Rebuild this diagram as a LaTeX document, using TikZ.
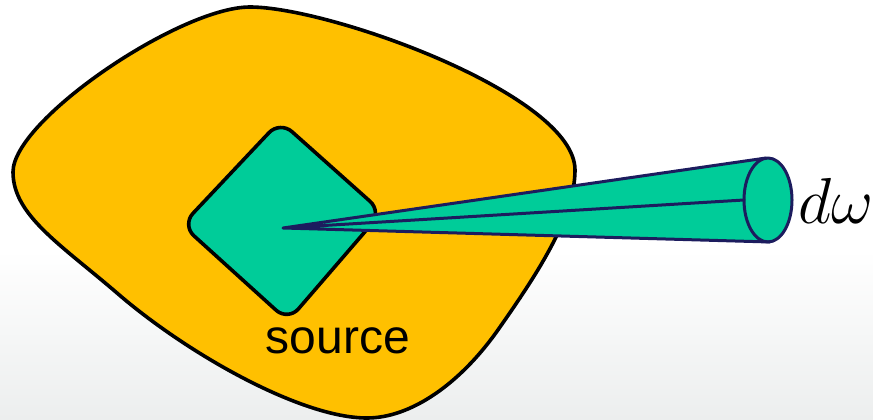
\RequirePackage{fix-cm}
\documentclass[tikz,border=0pt]{standalone}
\usepackage{fontspec}
\newfontfamily\labelfont{Liberation Sans}
\usetikzlibrary{calc}
\definecolor{blobfill}{HTML}{FFC000}
\definecolor{srcgreen}{HTML}{00CC99}
\definecolor{conenavy}{HTML}{1C1C5E}
\definecolor{bggray}{HTML}{ECEEEE}

\begin{document}
\begin{tikzpicture}[x=1pt,y=-1pt,line join=round,line cap=round]
\useasboundingbox (0,0) rectangle (873,420);
\fill[white] (0,0) rectangle (873,250);
\shade[top color=white,bottom color=bggray] (0,250) rectangle (873,420);
\draw[line width=3.6pt,fill=blobfill] (250,7) .. controls (330,7) and (575,95) .. (575,170)
  .. controls (575,215) and (540,270) .. (500,327)
  .. controls (460,385) and (410,418) .. (367,418)
  .. controls (300,418) and (185,352) .. (117,293)
  .. controls (60,244) and (13,215) .. (13,172)
  .. controls (13,120) and (180,7) .. cycle;
\draw[line width=3.6pt,fill=srcgreen,rounded corners=16pt] (280,121) -- (382,212) -- (288,321) -- (182,225) -- cycle;
\coordinate (apex) at (283,228);
\coordinate (rimtop) at (766,158);
\coordinate (rimbot) at (770,242);
\coordinate (rimleft) at (744,200);
\fill[srcgreen] (apex) -- (rimtop) -- (rimbot) -- cycle;
\draw[conenavy,line width=3pt,fill=srcgreen] (768,200) ellipse [x radius=24,y radius=42];
\draw[conenavy,line width=3pt] (rimtop) -- (apex) -- (rimbot) (apex) -- (rimleft);
\node[anchor=base,inner sep=0pt,font=\labelfont\fontsize{48}{48}\selectfont] (source) at (338,353) {source};
\node[anchor=base west,inner sep=0pt,font=\fontsize{65}{65}\selectfont] (domega) at (798,223) {$d\omega$};
\end{tikzpicture}
\end{document}
